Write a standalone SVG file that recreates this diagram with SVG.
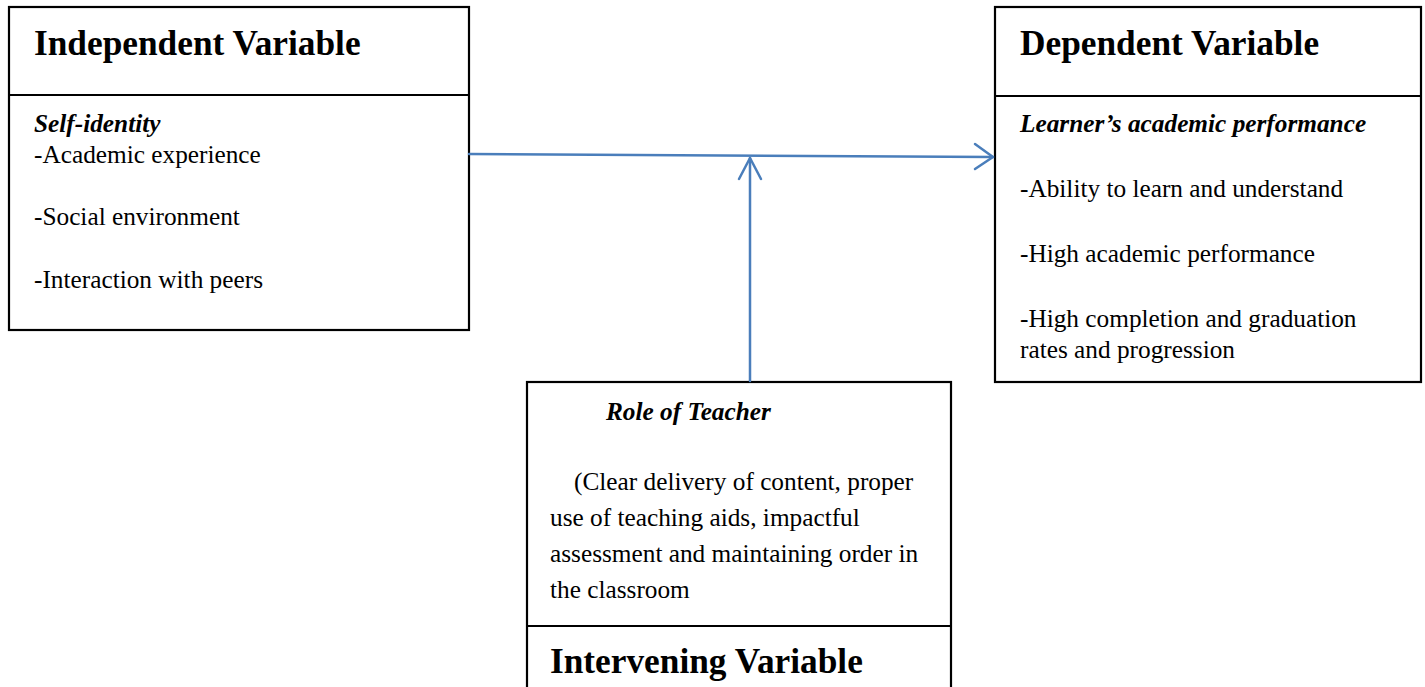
<svg xmlns="http://www.w3.org/2000/svg" width="1425" height="687" viewBox="0 0 1425 687">
<style>
.box{fill:#fff;stroke:#000;stroke-width:2.2}
.div{stroke:#000;stroke-width:2.2}
.t{font-family:"Liberation Serif","Times New Roman",serif;font-size:25.3px;fill:#000}
.h{font-family:"Liberation Serif","Times New Roman",serif;font-size:35.3px;font-weight:bold;fill:#000}
.bi{font-family:"Liberation Serif","Times New Roman",serif;font-size:25.3px;font-weight:bold;font-style:italic;fill:#000}
.c{fill:none;stroke:#4a7ebb;stroke-width:2.5;stroke-linecap:round;stroke-linejoin:round}
</style>
<rect width="1425" height="687" fill="#fff"/>
<g id="independent">
<rect class="box" x="9" y="7" width="460" height="323"/>
<line class="div" x1="9" y1="95" x2="469" y2="95"/>
<text class="h" x="34" y="55">Independent Variable</text>
<text class="bi" x="34" y="132">Self-identity</text>
<text class="t" x="34" y="163">-Academic experience</text>
<text class="t" x="34" y="225">-Social environment</text>
<text class="t" x="34" y="288">-Interaction with peers</text>
</g>
<g id="dependent">
<rect class="box" x="995" y="7" width="426" height="375"/>
<line class="div" x1="995" y1="96" x2="1421" y2="96"/>
<text class="h" x="1020" y="55">Dependent Variable</text>
<text class="bi" x="1020" y="132">Learner’s academic performance</text>
<text class="t" x="1020" y="197">-Ability to learn and understand</text>
<text class="t" x="1020" y="262">-High academic performance</text>
<text class="t" x="1020" y="327">-High completion and graduation</text>
<text class="t" x="1020" y="358">rates and progression</text>
</g>
<g id="intervening">
<rect class="box" x="527" y="382" width="424" height="320"/>
<line class="div" x1="527" y1="626" x2="951" y2="626"/>
<text class="bi" x="606" y="420">Role of Teacher</text>
<text class="t" x="574" y="490">(Clear delivery of content, proper</text>
<text class="t" x="550" y="526">use of teaching aids, impactful</text>
<text class="t" x="550" y="562">assessment and maintaining order in</text>
<text class="t" x="550" y="598">the classroom</text>
<text class="h" x="550" y="673">Intervening Variable</text>
</g>
<g id="connectors">
<path class="c" d="M469 154 L993 157"/>
<path class="c" d="M975 144 L993 157 L975 169"/>
<path class="c" d="M750 381 L750 158"/>
<path class="c" d="M739 179 L750 158 L761 179"/>
</g>
</svg>
